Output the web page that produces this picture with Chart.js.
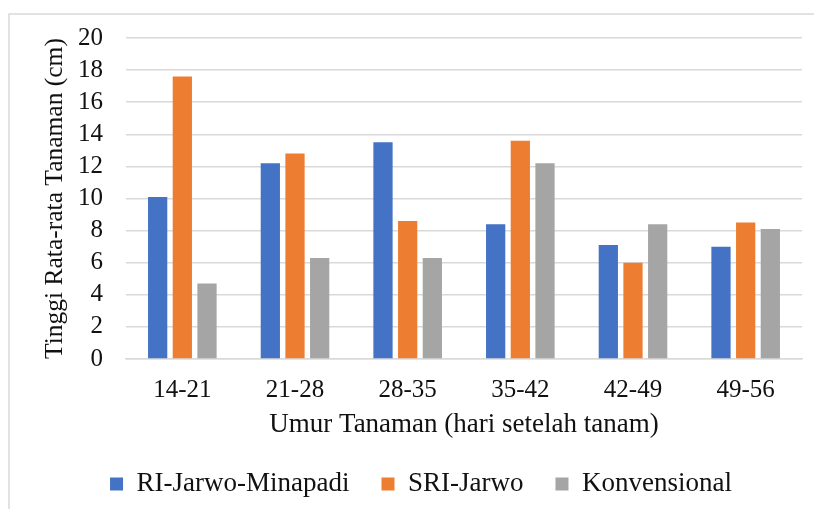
<!DOCTYPE html>
<html>
<head>
<meta charset="utf-8">
<script src="https://cdn.jsdelivr.net/npm/chart.js@4/dist/chart.umd.min.js"></script>
<style>
  html, body { margin: 0; padding: 0; background: #ffffff; }
  #wrap { width: 814px; height: 509px; position: relative; }
</style>
</head>
<body>
<div id="wrap"><canvas id="chart" width="814" height="509"></canvas></div>
<script>
// Rata-rata pertambahan tinggi tanaman per interval umur
const categories = ['14-21', '21-28', '28-35', '35-42', '42-49', '49-56'];
const riJarwoMinapadi = [10.1, 12.2, 13.5, 8.4, 7.1, 7.0];
const sriJarwo = [17.6, 12.8, 8.6, 13.6, 6.0, 8.5];
const konvensional = [4.7, 6.3, 6.3, 12.2, 8.4, 8.1];
const seriesNames = ['RI-Jarwo-Minapadi', 'SRI-Jarwo', 'Konvensional'];
const seriesColors = ['#4472C4', '#ED7D31', '#A5A5A5'];

const serif = '"Liberation Serif", "Times New Roman", serif';
const ink = '#111111';
const gridColor = '#d9d9d9';

// Thin frame around the figure
const framePlugin = {
  id: 'frame',
  beforeDraw(chart) {
    const ctx = chart.ctx;
    ctx.save();
    ctx.fillStyle = '#ffffff';
    ctx.fillRect(0, 0, chart.width, chart.height);
    ctx.strokeStyle = gridColor;
    ctx.lineWidth = 1.5;
    ctx.strokeRect(9, 14, 900, 600);
    ctx.restore();
  }
};

// Keep the legend row close under the axis title
const legendHeightPlugin = {
  id: 'legendHeight',
  afterInit(chart) {
    const legend = chart.legend;
    if (!legend) return;
    const fit = legend.fit.bind(legend);
    legend.fit = function () {
      fit();
      this.height = 70.5;
    };
  }
};

new Chart(document.getElementById('chart'), {
  type: 'bar',
  data: {
    labels: categories,
    datasets: [
      { label: seriesNames[0], data: riJarwoMinapadi, backgroundColor: seriesColors[0] },
      { label: seriesNames[1], data: sriJarwo, backgroundColor: seriesColors[1] },
      { label: seriesNames[2], data: konvensional, backgroundColor: seriesColors[2] }
    ]
  },
  options: {
    responsive: false,
    animation: false,
    layout: { padding: { left: 40, right: 12, top: 38, bottom: 0 } },
    datasets: {
      bar: { categoryPercentage: 0.657, barPercentage: 0.78 }
    },
    plugins: {
      tooltip: { enabled: false },
      legend: {
        position: 'bottom',
        labels: {
          boxWidth: 13,
          boxHeight: 13,
          padding: 32,
          color: ink,
          font: { family: serif, size: 27 }
        }
      }
    },
    scales: {
      x: {
        grid: { display: false, drawTicks: false },
        border: { display: true, color: gridColor, width: 1.5 },
        ticks: { color: ink, padding: 16, autoSkip: false, maxRotation: 0, font: { family: serif, size: 25 } },
        title: {
          display: true,
          text: 'Umur Tanaman (hari setelah tanam)',
          color: ink,
          font: { family: serif, size: 27 },
          padding: { top: 0, bottom: -2.7 }
        },
        afterFit(scale) { scale.height = 79.5; }
      },
      y: {
        min: 0,
        max: 20,
        ticks: { stepSize: 2, autoSkip: false, color: ink, padding: 23, font: { family: serif, size: 25 } },
        grid: { color: gridColor, lineWidth: 1.5, drawTicks: false },
        border: { display: false },
        title: {
          display: true,
          text: 'Tinggi Rata-rata Tanaman (cm)',
          color: ink,
          font: { family: serif, size: 25.5 },
          padding: { top: 0, bottom: 0 }
        },
        afterFit(scale) { scale.width = 86; }
      }
    }
  },
  plugins: [framePlugin, legendHeightPlugin]
});
</script>
</body>
</html>
